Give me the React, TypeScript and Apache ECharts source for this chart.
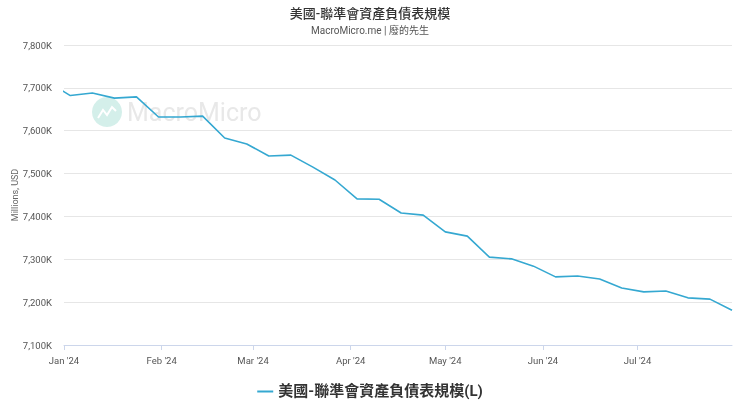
import React, { useEffect, useRef } from "react";
import * as echarts from "echarts";

const dates = [
  "2023-12-27", "2024-01-03", "2024-01-10", "2024-01-17", "2024-01-24", "2024-01-31",
  "2024-02-07", "2024-02-14", "2024-02-21", "2024-02-28", "2024-03-06", "2024-03-13",
  "2024-03-20", "2024-03-27", "2024-04-03", "2024-04-10", "2024-04-17", "2024-04-24",
  "2024-05-01", "2024-05-08", "2024-05-15", "2024-05-22", "2024-05-29", "2024-06-05",
  "2024-06-12", "2024-06-19", "2024-06-26", "2024-07-03", "2024-07-10", "2024-07-17",
  "2024-07-24", "2024-07-31",
];
const values = [
  7713000, 7682000, 7688000, 7676000, 7679000, 7632000,
  7632000, 7634000, 7583000, 7569000, 7541000, 7543000,
  7515000, 7485000, 7441000, 7440000, 7408000, 7403000,
  7364000, 7354000, 7305000, 7301000, 7284000, 7259000,
  7261000, 7254000, 7233000, 7224000, 7226000, 7210000,
  7207000, 7181000,
];
const monthLabels = ["Jan '24", "Feb '24", "Mar '24", "Apr '24", "May '24", "Jun '24", "Jul '24"];
const title = "美國-聯準會資產負債表規模";
const subtitle = "MacroMicro.me | 廢的先生";
const seriesName = "美國-聯準會資產負債表規模(L)";
const yName = "Millions, USD";

export default function App() {
  const ref = useRef<HTMLDivElement>(null);
  useEffect(() => {
    const chart = echarts.init(ref.current!, null, { renderer: "svg" });
    const font = "Roboto, 'Noto Sans CJK TC', sans-serif";
    chart.setOption({
      animation: false,
      textStyle: { fontFamily: font },
      title: {
        text: title,
        subtext: subtitle,
        left: "center",
        top: 2,
        itemGap: 5,
        textStyle: { fontSize: 13, fontWeight: 500, color: "#333", fontFamily: font },
        subtextStyle: { fontSize: 10, color: "#555", fontFamily: font },
      },
      legend: {
        bottom: 12,
        left: "center",
        icon: "rect",
        itemWidth: 16,
        itemHeight: 2,
        itemGap: 6,
        textStyle: { fontSize: 15, fontWeight: "bold", color: "#333", fontFamily: font },
        data: [seriesName],
      },
      grid: { left: 64, right: 8, top: 45, bottom: 71 },
      graphic: [
        {
          type: "circle",
          shape: { cx: 107, cy: 112, r: 15 },
          style: { fill: "#d4efea" },
          silent: true,
          z: 0,
        },
        {
          type: "polyline",
          shape: { points: [[98, 118], [103, 110], [107, 115], [112, 107], [116, 111]] },
          style: { stroke: "#ffffff", lineWidth: 2, fill: null },
          silent: true,
          z: 0,
        },
        {
          type: "text",
          x: 127,
          y: 112,
          style: {
            text: "MacroMicro",
            fontSize: 25,
            fontFamily: font,
            fill: "#e8e8e8",
            verticalAlign: "middle",
          },
          silent: true,
          z: 0,
        },
        {
          type: "text",
          x: 15,
          y: 195,
          rotation: Math.PI / 2,
          style: {
            text: yName,
            fontSize: 9,
            fill: "#666",
            fontFamily: font,
            align: "center",
            verticalAlign: "middle",
          },
        },
      ],
      xAxis: {
        type: "time",
        min: new Date(2024, 0, 1).getTime(),
        max: new Date(2024, 6, 31).getTime(),
        splitNumber: 7,
        axisLine: { show: true, lineStyle: { color: "#ccd6eb" } },
        axisTick: { show: true, length: 5, lineStyle: { color: "#ccd6eb" } },
        splitLine: { show: false },
        axisLabel: {
          fontSize: 9.5,
          color: "#555",
          margin: 11,
          hideOverlap: false,
          formatter: (v: number) => {
            const d = new Date(v);
            if (d.getDate() !== 1) return "";
            return monthLabels[d.getMonth()] || "";
          },
        },
        minInterval: 28 * 86400000,
      },
      yAxis: {
        type: "value",
        min: 7100000,
        max: 7800000,
        interval: 100000,
        axisLine: { show: false },
        axisTick: { show: false },
        splitLine: { lineStyle: { color: "#e6e6e6" } },
        axisLabel: {
          fontSize: 9.5,
          color: "#555",
          margin: 12,
          formatter: (v: number) => (v / 1000).toLocaleString("en-US") + "K",
        },
      },
      series: [
        {
          name: seriesName,
          type: "line",
          data: dates.map((d, i) => [d, values[i]]),
          showSymbol: false,
          symbol: "none",
          clip: true,
          lineStyle: { color: "#35a8d1", width: 1.6 },
          itemStyle: { color: "#35a8d1" },
          z: 5,
        },
      ],
    });
    return () => chart.dispose();
  }, []);
  return (
    <div
      ref={ref}
      style={{ position: "fixed", left: 0, top: 0, width: 740, height: 416 }}
    />
  );
}
